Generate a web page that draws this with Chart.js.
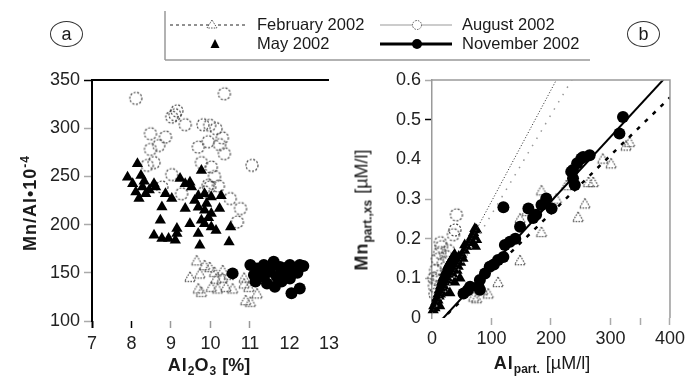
<!DOCTYPE html>
<html><head><meta charset="utf-8">
<script src="https://cdn.jsdelivr.net/npm/chart.js@4/dist/chart.umd.min.js"></script>
<style>
html,body{margin:0;padding:0;background:#fff;}
#wrap{position:relative;width:688px;height:379px;overflow:hidden;font-family:"Liberation Sans",Arial,Helvetica,sans-serif;color:#1a1a1a;}
canvas.c{position:absolute;top:0;}
.t{position:absolute;white-space:nowrap;line-height:19px;}
.leg{font-size:16.5px;}
.ax{font-weight:bold;font-size:18px;letter-spacing:1px;}
.ax sub{font-size:12px;font-weight:bold;letter-spacing:0;vertical-align:-4px;}
.ax sup{font-size:12px;vertical-align:7px;}
.ax .n{font-weight:normal;letter-spacing:0;}
.rot{transform:translate(-50%,-50%) rotate(-90deg);}
.ctr{transform:translate(-50%,-50%);}
.lab{position:absolute;border:1.5px solid #333;border-radius:50%;width:31px;height:24px;font-size:18px;text-align:center;line-height:24px;}
</style></head>
<body>
<div id="wrap">
  <canvas id="ca" class="c" width="344" height="379" style="left:0;width:344px;height:379px"></canvas>
  <canvas id="cb" class="c" width="344" height="379" style="left:344px;width:344px;height:379px"></canvas>
  <svg width="688" height="70" style="position:absolute;left:0;top:0">
    <line x1="165" y1="11" x2="165" y2="60" stroke="#999" stroke-width="1.5"/>
    <line x1="165" y1="60" x2="590" y2="60" stroke="#999" stroke-width="1.5"/>
    <line x1="170" y1="25" x2="247" y2="25" stroke="#222" stroke-width="1" stroke-dasharray="3,3"/>
    <polygon points="212,20 207,28 217,28" fill="#fff" stroke="#555" stroke-width="1" stroke-dasharray="1.5,1.2"/>
    <polygon points="215,39 210.5,48 219.5,48" fill="#000"/>
    <line x1="380" y1="25" x2="452" y2="25" stroke="#999" stroke-width="1"/>
    <circle cx="417" cy="25" r="4.5" fill="#fff" stroke="#555" stroke-width="1" stroke-dasharray="1.5,1.2"/>
    <line x1="380" y1="44" x2="452" y2="44" stroke="#000" stroke-width="3"/>
    <circle cx="417" cy="44" r="5" fill="#000"/>
  </svg>
  <div class="t leg" style="left:257px;top:15px">February 2002</div>
  <div class="t leg" style="left:257px;top:34px">May 2002</div>
  <div class="t leg" style="left:462px;top:15px">August 2002</div>
  <div class="t leg" style="left:462px;top:34px">November 2002</div>
  <div class="lab" style="left:50px;top:21px">a</div>
  <div class="lab" style="left:627px;top:21px">b</div>
  <div class="t ax rot" style="left:28px;top:203px">Mn/Al•10<sup>-4</sup></div>
  <div class="t ax ctr" style="left:209px;top:368px">Al<sub>2</sub>O<sub>3</sub> <span class="n" style="font-weight:bold">[%]</span></div>
  <div class="t ax rot" style="left:365px;top:210px">Mn<sub>part.,xs</sub> <span class="n">[µM/l]</span></div>
  <div class="t ax ctr" style="left:542px;top:366px">Al<sub>part.</sub> <span class="n">[µM/l]</span></div>
</div>
<script>
// ---------- Panel (a): Al2O3 [%] vs Mn/Al*10^-4 ----------
const febA = [[9.65,163],[9.73,149.4],[9.98,156],[10.1,151],[10.31,152.8],[10.47,148],[9.48,145.9],[9.69,133.8],[10.02,135.5],[10.18,133.8],[10.39,135.5],[10.56,133.8],[10.85,139],[10.97,135.5],[10.89,121.7],[11.01,120],[11.18,128.7],[9.77,130.3],[10.85,145],[10.14,144],[9.85,158],[10.3,145]];
const mayA = [[8.15,263],[7.9,249],[8.24,251],[9.77,256],[9.23,247.7],[9.48,244],[8.57,242.5],[8.32,245],[8.03,242.5],[8.28,239],[8.61,239],[8.19,227],[8.36,232],[8.86,232],[9.02,227],[9.36,242.5],[9.52,239],[9.69,230],[9.85,232],[10.02,228.7],[10.27,230],[9.69,218],[9.85,215],[10.02,211.5],[9.36,216.6],[10.23,216.6],[9.77,204.5],[10.02,197.6],[10.14,194],[9.85,201],[10.51,197.6],[10.47,182],[9.73,178.7],[9.69,190.8],[9.48,201],[8.77,218.3],[8.73,204.5],[8.57,189],[8.77,185.6],[8.94,185.6],[9.11,183.8],[9.15,190.8],[9.15,196],[8.11,233.9],[9.6,225],[9.9,222],[8.45,236],[9.95,207]];
const augA = [[8.11,331],[10.35,335.7],[9.15,318],[9.02,311.5],[9.36,303.6],[9.81,303.6],[10.14,299.5],[9.98,303],[8.48,294.3],[8.86,290.8],[8.69,282],[8.48,278],[9.69,280.4],[9.94,286],[10.23,283],[10.35,273.6],[11.05,261.5],[8.57,264.3],[8.4,261.5],[10.02,259.7],[9.77,264.3],[9.02,251.9],[9.98,239],[9.85,234],[10.5,227],[10.76,216.6],[10.68,202.8],[9.27,232],[8.77,239],[9.94,240.8],[10.1,250],[10.2,240],[9.1,314],[10.3,290]];
const novA = [[10.56,149.4],[11.01,158],[11.18,154.5],[11.35,158],[11.6,161.4],[11.76,156],[12.01,158],[12.26,158],[11.1,147.6],[11.35,146],[11.5,151],[11.68,146],[11.85,149],[12.01,144],[11.43,139],[11.63,135.5],[12.26,133.8],[12.05,128.7],[11.14,141],[11.27,152],[11.9,155],[12.2,150],[11.55,157],[11.8,141],[11.95,152],[12.35,157]];

// ---------- Panel (b): Al part. [uM/l] vs Mn part.,xs [uM/l] ----------
const febB = [[332,0.444],[326,0.435],[301,0.39],[287,0.402],[271,0.343],[263,0.343],[257,0.289],[245.5,0.255],[226,0.335],[184,0.322],[184,0.217],[148,0.251],[148,0.146],[111,0.091],[94.5,0.062],[75,0.05],[70,0.054],[209,0.301],[160,0.27],[85,0.07]];
const mayB = [[2,0.02],[3,0.03],[5,0.025],[6,0.04],[8,0.035],[8,0.05],[10,0.045],[10,0.06],[12,0.055],[12,0.07],[14,0.06],[14,0.08],[16,0.07],[16,0.09],[18,0.075],[18,0.1],[20,0.08],[20,0.105],[22,0.09],[22,0.115],[24,0.095],[24,0.12],[26,0.1],[26,0.13],[28,0.11],[28,0.135],[30,0.115],[30,0.14],[32,0.12],[32,0.145],[34,0.125],[34,0.15],[36,0.13],[36,0.155],[38,0.135],[38,0.16],[40,0.14],[42,0.12],[42,0.15],[44,0.13],[45,0.155],[47,0.1],[48,0.14],[50,0.16],[52,0.15],[55,0.17],[55,0.184],[58,0.18],[62,0.19],[65,0.195],[66.6,0.205],[70,0.215],[72,0.225],[75,0.222],[75,0.197],[73,0.18],[30,0.063],[13,0.03],[20,0.065],[38,0.09],[35,0.11]];
const augB = [[41,0.26],[38.6,0.222],[36,0.21],[16,0.18],[13,0.165],[9,0.148],[19,0.138],[6,0.12],[9,0.096],[4,0.08],[11,0.105],[24,0.155],[5,0.06],[14,0.19],[28,0.17],[3,0.1]];
const novB = [[321,0.507],[315,0.465],[251,0.402],[265,0.41],[244,0.39],[234,0.369],[237,0.352],[240,0.335],[192,0.301],[201,0.276],[184,0.285],[162,0.276],[170,0.252],[148,0.23],[120,0.279],[131,0.192],[122.5,0.184],[120,0.154],[111,0.146],[97,0.129],[89,0.112],[80.5,0.096],[78,0.079],[64,0.079],[53,0.062],[80.5,0.071],[254,0.406],[237,0.373],[175,0.26],[140,0.2],[104,0.135],[60,0.07]];

// regression line end points (panel b)
const febLine = [[0,-0.028],[400,0.556]];
const mayLine = [[0,0.013],[220,0.631]];
const augLine = [[0,0.01],[250,0.638]];
const novLine = [[0,-0.031],[400,0.619]];

// tick label values
const ticksAx = [7,8,9,10,11,12,13];
const ticksAy = [100,150,200,250,300,350];
const ticksBx = [0,100,200,300,400];
const ticksBy = [0,0.1,0.2,0.3,0.4,0.5,0.6];

const toXY = a => a.map(p => ({x:p[0], y:p[1]}));
const FONT = {family:'"Liberation Sans", Arial, sans-serif', size:18};

function openCircle(r){
  const s = Math.ceil(2*r+4), c = document.createElement('canvas');
  c.width = s; c.height = s;
  const g = c.getContext('2d');
  g.setLineDash([2,1.6]); g.strokeStyle = '#444'; g.lineWidth = 1.2;
  g.beginPath(); g.arc(s/2, s/2, r, 0, 2*Math.PI); g.stroke();
  return c;
}
function openTri(r, color){
  const s = Math.ceil(2*r+4), c = document.createElement('canvas');
  c.width = s; c.height = s;
  const g = c.getContext('2d'), cx = s/2, cy = s/2 + 1;
  g.setLineDash([1.6,1.2]); g.strokeStyle = color; g.lineWidth = 1.2;
  g.beginPath();
  g.moveTo(cx, cy - r);
  g.lineTo(cx - r*0.9, cy + r*0.6);
  g.lineTo(cx + r*0.9, cy + r*0.6);
  g.closePath(); g.stroke();
  return c;
}
const imgCircle = openCircle(6);
const imgTri = openTri(6, '#555');

function ptSet(label, data, style, extra){
  return Object.assign({label, data: toXY(data), type:'scatter', showLine:false, clip:false,
    pointStyle: style, pointRadius: 6, pointHoverRadius: 6, borderWidth:0}, extra||{});
}
function lineSet(label, data, color, width, dash){
  return {label, data: toXY(data), type:'line', showLine:true, borderColor:color, borderWidth:width,
    borderDash:dash, pointRadius:0, fill:false, clip:0, tension:0};
}

const near = (a,b) => Math.abs(a-b) < 1e-6;

const frameA = {id:'frameA', afterDatasetsDraw(chart){
  const {ctx, chartArea:a} = chart;
  ctx.save(); ctx.strokeStyle = '#000'; ctx.lineWidth = 2;
  ctx.beginPath(); ctx.moveTo(a.left-1, a.top); ctx.lineTo(a.right, a.top); ctx.stroke();
  ctx.restore();
}};
const frameB = {id:'frameB', afterDatasetsDraw(chart){
  const {ctx, chartArea:a} = chart;
  ctx.save(); ctx.strokeStyle = '#9a9a9a'; ctx.lineWidth = 1.5;
  ctx.beginPath(); ctx.moveTo(a.left, a.top); ctx.lineTo(a.right, a.top); ctx.lineTo(a.right, a.bottom); ctx.stroke();
  ctx.restore();
}};

new Chart(document.getElementById('ca'), {
  type:'scatter',
  data:{datasets:[
    ptSet('November 2002', novA, 'circle', {backgroundColor:'#000', pointBackgroundColor:'#000'}),
    ptSet('May 2002', mayA, 'triangle', {backgroundColor:'#000', pointBackgroundColor:'#000', pointRadius:6.5}),
    ptSet('February 2002', febA, imgTri),
    ptSet('August 2002', augA, imgCircle)
  ]},
  options:{
    responsive:false, animation:false, devicePixelRatio:1,
    layout:{padding:{top:80, left:0, right:11, bottom:0}},
    plugins:{legend:{display:false}, tooltip:{enabled:false}},
    scales:{
      x:{type:'linear', min:7, max:13, afterFit:s=>{s.height=58;},
        afterBuildTicks:s=>{s.ticks = ticksAx.map(v=>({value:v}));},
        border:{display:false},
        grid:{drawOnChartArea:false, drawTicks:true, tickLength:7,
          tickColor:c=>{const v=c.tick&&c.tick.value; return (v===7||v===8)?'#000':(v>=9&&v<=11?'#999':'rgba(0,0,0,0)');},
          tickWidth:c=>{const v=c.tick&&c.tick.value; return v===7?2:1.5;}},
        ticks:{font:FONT, color:'#222', padding:5, autoSkip:false, maxRotation:0}},
      y:{type:'linear', min:100, max:350, afterFit:s=>{s.width=92;},
        afterBuildTicks:s=>{s.ticks = ticksAy.map(v=>({value:v}));},
        border:{display:true, color:'#000', width:2},
        grid:{drawOnChartArea:false, drawTicks:true, tickLength:8,
          tickColor:c=>{const v=c.tick&&c.tick.value; return v===350?'#000':'#aaa';}, tickWidth:1.5},
        ticks:{font:FONT, color:'#222', padding:4, autoSkip:false}}
    }
  },
  plugins:[frameA]
});

new Chart(document.getElementById('cb'), {
  type:'scatter',
  data:{datasets:[
    lineSet('November 2002 fit', novLine, '#000', 2, []),
    lineSet('February 2002 fit', febLine, '#000', 2.5, [4,7]),
    lineSet('May 2002 fit', mayLine, '#222', 1, [1,2]),
    lineSet('August 2002 fit', augLine, '#999', 1.5, [1.5,7]),
    ptSet('November 2002', novB, 'circle', {backgroundColor:'#000', pointBackgroundColor:'#000'}),
    ptSet('May 2002', mayB, 'triangle', {backgroundColor:'#000', pointBackgroundColor:'#000', pointRadius:6.5}),
    ptSet('February 2002', febB, imgTri),
    ptSet('August 2002', augB, imgCircle)
  ]},
  options:{
    responsive:false, animation:false, devicePixelRatio:1,
    layout:{padding:{top:80, left:0, right:18, bottom:0}},
    plugins:{legend:{display:false}, tooltip:{enabled:false}},
    scales:{
      x:{type:'linear', min:0, max:400, afterFit:s=>{s.height=61;},
        afterBuildTicks:s=>{s.ticks = [0,100,200,300,350,400].map(v=>({value:v}));},
        border:{display:false},
        grid:{drawOnChartArea:false, drawTicks:true, tickLength:7,
          tickColor:c=>{const v=c.tick&&c.tick.value; return v===0?'rgba(0,0,0,0)':'#aaa';}, tickWidth:1.5},
        ticks:{font:FONT, color:'#222', padding:3, autoSkip:false, maxRotation:0,
          callback:v=> ticksBx.includes(v) ? String(v) : ''}},
      y:{type:'linear', min:0, max:0.6, afterFit:s=>{s.width=88;},
        afterBuildTicks:s=>{s.ticks = ticksBy.map(v=>({value:v}));},
        border:{display:true, color:'#9a9a9a', width:1.5},
        grid:{drawOnChartArea:false, drawTicks:true, tickLength:7,
          tickColor:c=>{const v=c.tick&&c.tick.value; return near(v,0.5)?'#000':(near(v,0)||near(v,0.4)?'rgba(0,0,0,0)':'#aaa');}, tickWidth:1.5},
        ticks:{font:FONT, color:'#222', padding:4, autoSkip:false,
          callback:v=> near(v,0) ? '0' : v.toFixed(1)}}
    }
  },
  plugins:[frameB]
});
</script>
</body></html>
